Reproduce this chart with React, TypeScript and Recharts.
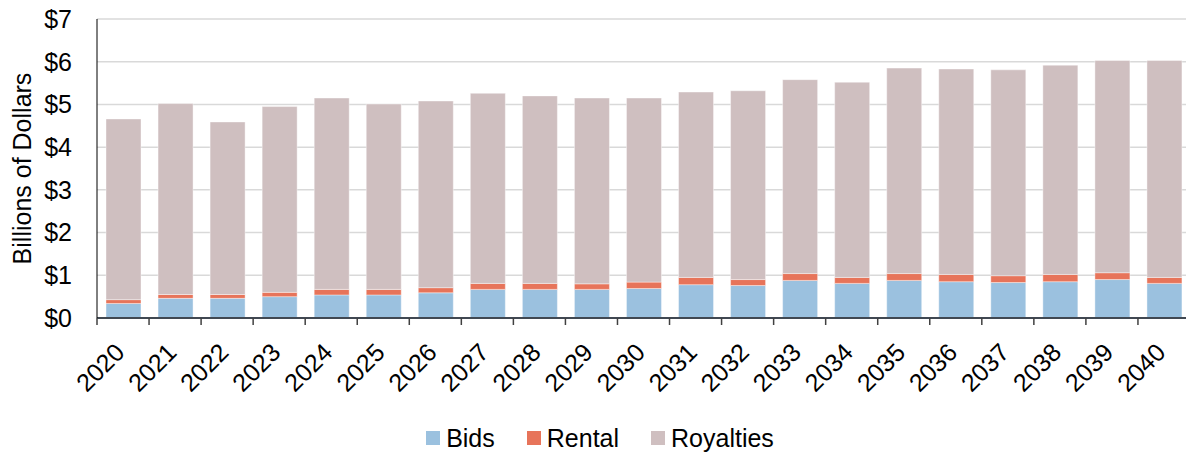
import { Bar, BarChart, CartesianGrid, Label, Legend, XAxis, YAxis } from "recharts";

const YEARS = [
  "2020", "2021", "2022", "2023", "2024", "2025", "2026", "2027", "2028", "2029", "2030",
  "2031", "2032", "2033", "2034", "2035", "2036", "2037", "2038", "2039", "2040",
];
const BIDS = [
  0.34, 0.46, 0.46, 0.5, 0.54, 0.54, 0.59, 0.67, 0.67, 0.67, 0.69,
  0.78, 0.76, 0.88, 0.81, 0.88, 0.85, 0.83, 0.85, 0.9, 0.81,
];
const RENTAL = [
  0.09, 0.09, 0.09, 0.1, 0.13, 0.13, 0.12, 0.14, 0.14, 0.13, 0.15,
  0.17, 0.14, 0.16, 0.14, 0.16, 0.17, 0.16, 0.17, 0.16, 0.14,
];
const ROYALTIES = [
  4.23, 4.47, 4.04, 4.35, 4.48, 4.34, 4.37, 4.45, 4.39, 4.35, 4.31,
  4.34, 4.42, 4.54, 4.57, 4.81, 4.81, 4.82, 4.9, 4.97, 5.08,
];
const Y_TICKS = [0, 1, 2, 3, 4, 5, 6, 7];

const SERIES = [
  { key: "bids", label: "Bids", color: "#9BC1DF" },
  { key: "rental", label: "Rental", color: "#E7745A" },
  { key: "royalties", label: "Royalties", color: "#CFBFC0" },
];

const data = YEARS.map((year, i) => ({
  year,
  bids: BIDS[i],
  rental: RENTAL[i],
  royalties: ROYALTIES[i],
}));

const FONT = "'Liberation Sans', Arial, sans-serif";
const CHART_W = 1190;
const Y_AXIS_W = 97;
const BAND = (CHART_W - Y_AXIS_W) / YEARS.length;

function YearTick(props: any) {
  const { x, y, payload, index } = props;
  const left = x - BAND / 2;
  return (
    <g>
      <line x1={left} y1={y} x2={left} y2={y + 7} stroke="#404040" strokeWidth={1.5} />
      {index === YEARS.length - 1 && (
        <line x1={x + BAND / 2} y1={y} x2={x + BAND / 2} y2={y + 7} stroke="#404040" strokeWidth={1.5} />
      )}
      <text
        x={x + 3}
        y={y + 36}
        textAnchor="end"
        transform={`rotate(-45 ${x + 3} ${y + 36})`}
        fontSize={25}
        fontFamily={FONT}
        fill="#000"
      >
        {payload.value}
      </text>
    </g>
  );
}

function LegendRow() {
  return (
    <div
      style={{
        display: "flex",
        justifyContent: "center",
        alignItems: "center",
        height: 30,
        paddingLeft: 14,
        fontFamily: FONT,
        fontSize: 25,
        color: "#000",
      }}
    >
      {SERIES.map((s, i) => (
        <div
          key={s.key}
          style={{ display: "flex", alignItems: "center", marginRight: i < SERIES.length - 1 ? 32 : 0 }}
        >
          <span style={{ width: 14, height: 14, background: s.color, marginRight: 6, display: "inline-block" }} />
          <span style={{ lineHeight: "30px" }}>{s.label}</span>
        </div>
      ))}
    </div>
  );
}

export default function App() {
  return (
    <div style={{ position: "absolute", left: 0, top: 0, width: 1186, height: 453, overflow: "hidden", background: "#fff" }}>
      <BarChart
        width={CHART_W}
        height={453}
        data={data}
        margin={{ top: 19, right: 0, bottom: 0, left: 0 }}
        barSize={35}
      >
        <CartesianGrid vertical={false} stroke="#D9D9D9" strokeWidth={1.5} />
        <XAxis
          dataKey="year"
          height={105}
          tickLine={false}
          tickSize={0}
          tickMargin={0}
          interval={0}
          axisLine={{ stroke: "#404852", strokeWidth: 2 }}
          tick={<YearTick />}
        />
        <YAxis
          width={Y_AXIS_W}
          domain={[0, 7]}
          ticks={Y_TICKS}
          interval={0}
          tickLine={false}
          tickSize={0}
          tickMargin={25}
          axisLine={{ stroke: "#000", strokeWidth: 1 }}
          tickFormatter={(v: number) => `$${v}`}
          tick={{ fontSize: 25, fontFamily: FONT, fill: "#000" }}
        >
          <Label
            content={(p: any) => {
              const vb = p.viewBox;
              const cx = 22;
              const cy = vb.y + vb.height / 2;
              return (
                <text
                  x={cx}
                  y={cy}
                  transform={`rotate(-90 ${cx} ${cy})`}
                  textAnchor="middle"
                  dominantBaseline="central"
                  fontSize={25}
                  fontFamily={FONT}
                  fill="#000"
                >
                  Billions of Dollars
                </text>
              );
            }}
          />
        </YAxis>
        <Legend
          verticalAlign="bottom"
          content={<LegendRow />}
          wrapperStyle={{ top: 423, left: 0, width: 1186, height: 30 }}
        />
        {SERIES.map((s) => (
          <Bar
            key={s.key}
            dataKey={s.key}
            name={s.label}
            stackId="total"
            fill={s.color}
            stroke="#ffffff"
            strokeOpacity={0.5}
            strokeWidth={0.8}
            isAnimationActive={false}
          />
        ))}
      </BarChart>
    </div>
  );
}
